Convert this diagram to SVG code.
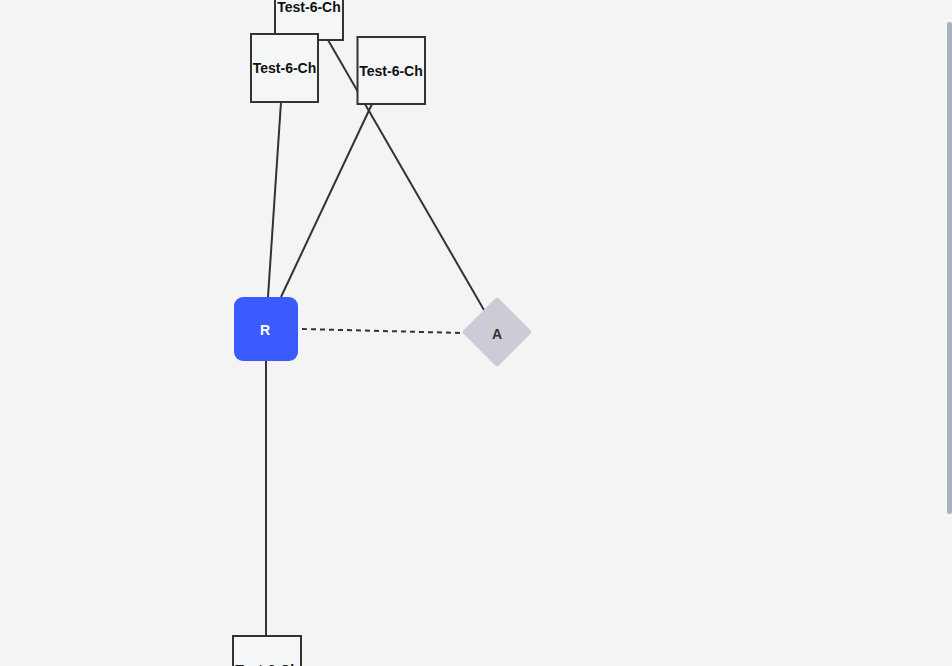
<svg xmlns="http://www.w3.org/2000/svg" width="952" height="666" viewBox="0 0 952 666">
<style>
.box{fill:#f5f6f8;stroke:#333;stroke-width:2}
.lbl{font-family:"Liberation Sans",Arial,sans-serif;font-weight:bold;font-size:14px;fill:#111;text-anchor:middle;dominant-baseline:central}
.e{stroke:#333;stroke-width:2;fill:none}
</style>
<rect width="952" height="666" fill="#f4f4f4"/>
<g id="connectors">
<line class="e" x1="328" y1="40" x2="484" y2="310"/>
<line class="e" x1="281" y1="102" x2="268" y2="297"/>
<line class="e" x1="372" y1="104" x2="281" y2="297"/>
<line class="e" x1="302" y1="329" x2="462" y2="333" stroke-dasharray="5,4"/>
<line class="e" x1="266" y1="361" x2="266" y2="636"/>
</g>
<g id="n-top"><rect class="box" x="275" y="-28" width="68" height="68"/><text class="lbl" x="309" y="7">Test-6-Ch</text></g>
<g id="n-left"><rect class="box" x="251" y="34" width="67" height="68"/><text class="lbl" x="284.5" y="68">Test-6-Ch</text></g>
<g id="n-right"><rect class="box" x="357.5" y="37" width="67.5" height="67"/><text class="lbl" x="391" y="71">Test-6-Ch</text></g>
<g id="n-R"><rect x="234" y="297" width="64" height="64" rx="9" fill="#3a5bff"/><text class="lbl" x="265" y="330" style="fill:#fff;font-size:14px">R</text></g>
<g id="n-A"><rect x="472" y="307" width="50" height="50" rx="3" fill="#cdcbd6" transform="rotate(45 497 332)"/><text class="lbl" x="497" y="334" style="fill:#333;font-size:14px">A</text></g>
<g id="n-bottom"><rect class="box" x="233" y="636" width="68" height="68"/><text class="lbl" x="267" y="670">Test-6-Ch</text></g>
<rect x="947" y="22" width="5" height="492" rx="2" fill="#aab3bd"/>
</svg>
